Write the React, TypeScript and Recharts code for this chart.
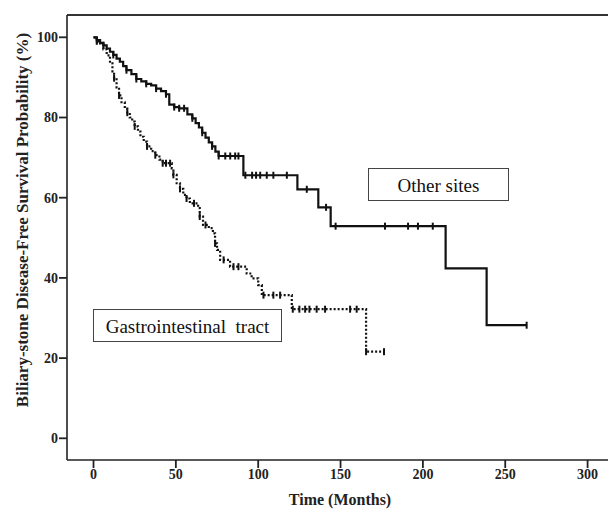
import React from 'react';
import { LineChart, Line, XAxis, YAxis, ReferenceLine } from 'recharts';

const FONT = '"Liberation Serif", "Times New Roman", serif';

// axis ticks
const xTicks = [0, 50, 100, 150, 200, 250, 300];
const yTicks = [0, 20, 40, 60, 80, 100];

// Other sites (solid) - step points, flag 1 = censored mark
const otherTimes = [0, 2, 4, 6, 8, 10, 12, 14, 16, 18, 20, 23, 26, 29, 32, 35, 38, 41, 44, 46, 49, 52, 55, 57, 60, 62, 64, 66, 68, 70, 72, 74, 76, 80, 83, 86, 88, 91, 92.2, 96.3, 98.7, 101.2, 105.2, 109.2, 117.4, 123.8, 129.5, 136.5, 141.2, 144, 147, 177, 191, 197, 206, 213.8, 238.7, 263];
const otherSurv = [100, 99.3, 98.6, 98, 97.2, 96.4, 95.6, 94.7, 93.9, 92.8, 91.8, 90.8, 89.6, 89, 88.4, 88, 87.2, 86.6, 85.8, 83.2, 82.6, 82.3, 82.3, 80.8, 79.8, 78.6, 77.5, 76.2, 75, 73.8, 72.8, 71.5, 70.4, 70.4, 70.4, 70.4, 70.4, 65.6, 65.6, 65.6, 65.6, 65.6, 65.6, 65.6, 65.6, 62.1, 62.1, 57.6, 57.6, 52.9, 52.9, 52.9, 52.9, 52.9, 52.9, 42.4, 28.2, 28.2];
const otherCensor = [0, 1, 0, 1, 0, 0, 1, 0, 0, 0, 1, 0, 1, 0, 1, 0, 1, 0, 1, 0, 1, 1, 1, 0, 1, 0, 0, 1, 0, 0, 1, 0, 1, 1, 1, 1, 1, 0, 1, 1, 1, 1, 1, 1, 1, 0, 1, 0, 1, 0, 1, 1, 1, 1, 1, 0, 0, 1];

// Gastrointestinal tract (dotted)
const giTimes = [0, 2, 4, 6, 8, 10, 11.5, 12.5, 14, 15.5, 17, 19, 20.5, 22, 23.5, 25, 27, 28.5, 30.5, 32.5, 35, 37.5, 40, 42, 44, 46.5, 47.5, 48.5, 50.5, 52.5, 54.5, 56.5, 58.5, 61, 63.5, 64.5, 66.5, 68, 70, 72.5, 73.8, 75, 76.9, 79, 82.9, 85, 88, 93, 96, 100, 102.2, 103.2, 109.2, 113.3, 120.4, 121, 125, 128.5, 131.1, 135.5, 140.6, 155.8, 159.8, 165.5, 176.4];
const giSurv = [100, 99, 98.5, 97, 95.5, 93.5, 91.5, 89.8, 87.5, 85.5, 83.8, 82.2, 81.2, 80, 79, 77.8, 76.5, 75.2, 74, 72.8, 71.6, 70.6, 69.5, 68.6, 68.6, 68.6, 67.3, 65.7, 63.6, 62.2, 60.7, 59.8, 58.6, 58.6, 57.4, 55.3, 53.2, 53.2, 52.4, 51.1, 48.6, 47, 44.5, 44.5, 42.8, 42.8, 42.8, 41.1, 39.9, 38.2, 35.7, 35.7, 35.7, 35.7, 32.2, 32.2, 32.2, 32.2, 32.2, 32.2, 32.2, 32.2, 32.2, 21.6, 21.6];
const giCensor = [0, 1, 0, 0, 0, 0, 0, 1, 0, 1, 0, 0, 1, 0, 0, 1, 0, 0, 0, 1, 0, 1, 0, 1, 1, 1, 0, 1, 0, 1, 0, 1, 0, 1, 0, 1, 0, 1, 0, 0, 1, 0, 0, 1, 0, 1, 1, 0, 0, 0, 0, 1, 1, 1, 0, 1, 1, 1, 1, 1, 1, 1, 1, 1, 1];

const toRows = (t: number[], s: number[], c: number[]) =>
  t.map((time, i) => ({ t: time, v: s[i], c: c[i] }));

const otherData = toRows(otherTimes, otherSurv, otherCensor);
const giData = toRows(giTimes, giSurv, giCensor);

// censored observations: small vertical tick on the curve
const CensorMark = (props: any) => {
  const { cx, cy, payload, index } = props;
  if (!payload || !payload.c) return <g key={`n${index}`} />;
  return (
    <line key={`c${index}`} x1={cx} x2={cx} y1={cy - 3.5} y2={cy + 3.5} stroke="#111" strokeWidth={2} />
  );
};

const tickStyle = { fill: '#222', fontSize: 14, fontWeight: 700, fontFamily: FONT };

const boxStyle: React.CSSProperties = {
  position: 'absolute',
  boxSizing: 'border-box',
  border: '1px solid #444',
  background: '#fff',
  display: 'flex',
  alignItems: 'center',
  justifyContent: 'center',
  paddingTop: 2,
  fontFamily: FONT,
  fontSize: 19,
  color: '#111',
  whiteSpace: 'pre',
};

export default function App() {
  return (
    <div style={{ position: 'absolute', left: 0, top: 0, width: 608, height: 509, background: '#fff' }}>
      <LineChart width={608} height={509} margin={{ top: 15, right: 0, bottom: 0, left: 0 }}>
        <XAxis
          type="number"
          dataKey="t"
          domain={[-16.1, 312.4]}
          allowDataOverflow
          ticks={xTicks}
          interval={0}
          height={49}
          tick={tickStyle}
          tickSize={8}
          tickMargin={1}
          axisLine={{ stroke: '#222', strokeWidth: 1.6 }}
          tickLine={{ stroke: '#222', strokeWidth: 1.8 }}
        />
        <YAxis
          type="number"
          domain={[-5.41, 105.56]}
          allowDataOverflow
          ticks={yTicks}
          interval={0}
          width={67}
          tick={tickStyle}
          tickSize={8}
          tickMargin={1}
          axisLine={{ stroke: '#222', strokeWidth: 1.6 }}
          tickLine={{ stroke: '#222', strokeWidth: 1.8 }}
        />
        <ReferenceLine y={105.56} stroke="#333" strokeWidth={2} ifOverflow="visible" />
        <Line
          data={otherData}
          dataKey="v"
          type="stepAfter"
          stroke="#111"
          strokeWidth={2.2}
          dot={CensorMark}
          activeDot={false}
          isAnimationActive={false}
        />
        <Line
          data={giData}
          dataKey="v"
          type="stepAfter"
          stroke="#111"
          strokeWidth={2.2}
          strokeDasharray="2 2"
          dot={CensorMark}
          activeDot={false}
          isAnimationActive={false}
        />
      </LineChart>
      <svg width={608} height={509} style={{ position: 'absolute', left: 0, top: 0, pointerEvents: 'none' }}>
        <text x={340} y={505} textAnchor="middle" fontFamily={FONT} fontSize={16} fontWeight={700} fill="#222">
          Time (Months)
        </text>
        <text
          x={28}
          y={220}
          textAnchor="middle"
          transform="rotate(-90, 28, 220)"
          fontFamily={FONT}
          fontSize={17}
          fontWeight={700}
          fill="#222"
        >
          Biliary-stone Disease-Free Survival Probability (%)
        </text>
      </svg>
      <div style={{ ...boxStyle, left: 368, top: 168, width: 141, height: 33 }}>Other sites</div>
      <div style={{ ...boxStyle, left: 93, top: 309, width: 189, height: 33 }}>{'Gastrointestinal  tract'}</div>
    </div>
  );
}
